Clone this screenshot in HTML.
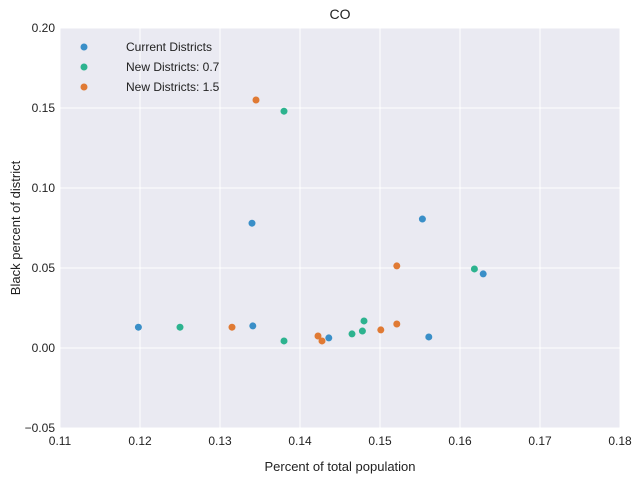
<!DOCTYPE html>
<html><head><meta charset="utf-8"><style>
body{margin:0;background:#fff;font-family:"Liberation Sans",sans-serif}
</style></head><body>
<svg id="c" width="639" height="483" xmlns="http://www.w3.org/2000/svg" font-family="Liberation Sans, sans-serif"></svg>
<script>
const xTicks=[0.11,0.12,0.13,0.14,0.15,0.16,0.17,0.18];
const yTicks=[-0.05,0,0.05,0.10,0.15,0.20];
const yTickLabels=["\u22120.05","0.00","0.05","0.10","0.15","0.20"];
const seriesNames=["Current Districts","New Districts: 0.7","New Districts: 1.5"];
const currentX=[0.1198,0.1340,0.1341,0.1436,0.1553,0.1561,0.1629];
const currentY=[0.013,0.078,0.0138,0.0063,0.0806,0.0069,0.0463];
const new07X=[0.1250,0.1380,0.1380,0.1465,0.1478,0.1480,0.1618];
const new07Y=[0.013,0.148,0.0044,0.0088,0.0106,0.0169,0.0494];
const new15X=[0.1345,0.1315,0.14225,0.14275,0.1501,0.1521,0.1521];
const new15Y=[0.155,0.013,0.0075,0.0044,0.0113,0.0513,0.015];
const colors=["#3a8fc8","#2db38f","#e07a34"];
const L=60,R=620,T=28,B=428;
const sx=v=>L+(v-0.11)/(0.07)*(R-L);
const sy=v=>B-(v+0.05)/0.25*(B-T);
const svg=document.getElementById('c');
const NS="http://www.w3.org/2000/svg";
function mk(t,a,txt){const e=document.createElementNS(NS,t);for(const k in a)e.setAttribute(k,a[k]);if(txt!==undefined)e.textContent=txt;svg.appendChild(e);return e;}
let bg=mk('rect',{x:L,y:T,width:R-L,height:B-T,fill:'#eaeaf2'});


xTicks.forEach(v=>{let g=mk('line',{x1:sx(v),x2:sx(v),y1:T,y2:B,stroke:'#fff','stroke-width':1});


let t=mk('text',{x:sx(v),y:B+17,'text-anchor':'middle','font-size':12,fill:'#222'},v.toFixed(2));

});
yTicks.forEach((v,i)=>{let g=mk('line',{x1:L,x2:R,y1:sy(v),y2:sy(v),stroke:'#fff','stroke-width':1});


let t=mk('text',{x:L-5,y:sy(v)+4,'text-anchor':'end','font-size':12,fill:'#222'},yTickLabels[i]);

});
const series=[[currentX,currentY],[new07X,new07Y],[new15X,new15Y]];
series.forEach((s,k)=>{s[0].forEach((x,i)=>{let p=mk('circle',{cx:sx(x),cy:sy(s[1][i]),r:3.5,fill:colors[k]});

});});
seriesNames.forEach((n,k)=>{let c=mk('circle',{cx:84,cy:47+k*20,r:3.5,fill:colors[k]});


let t=mk('text',{x:126,y:51+k*20,'font-size':12,fill:'#222'},n);

});
let ti=mk('text',{x:(L+R)/2,y:19,'text-anchor':'middle','font-size':14,fill:'#222'},'CO');


let xl=mk('text',{x:(L+R)/2,y:471,'text-anchor':'middle','font-size':13,fill:'#222'},'Percent of total population');


let yl=mk('text',{x:0,y:0,'text-anchor':'middle','font-size':13,fill:'#222',transform:'translate(20,'+((T+B)/2)+') rotate(-90)'},'Black percent of district');


</script>
</body></html>
